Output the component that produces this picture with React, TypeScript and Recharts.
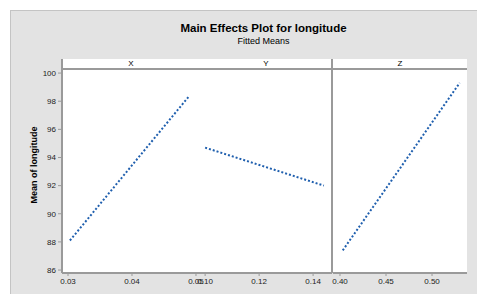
import React from 'react';
import { LineChart, Line, XAxis, YAxis } from 'recharts';

const panelNames = ['X', 'Y', 'Z'];
const yTicks = [86, 88, 90, 92, 94, 96, 98, 100];
const xTicks1 = [0.03, 0.04, 0.05];
const xTicks2 = [0.1, 0.12, 0.14];
const xTicks3 = [0.4, 0.45, 0.5];

const panel1 = [
    { x: 0.0303, y: 88.1 },
    { x: 0.049, y: 98.4 },
];
const panel2 = [
    { x: 0.1, y: 94.7 },
    { x: 0.144, y: 92.0 },
];
const panel3 = [
    { x: 0.403, y: 87.4 },
    { x: 0.53, y: 99.3 },
];

const FONT = '"Liberation Sans", Arial, sans-serif';
const AXIS = '#9a9a9a';
const BLUE = '#1f5fae';
const Y_DOMAIN: [number, number] = [85.79, 100.36];

const tickStyle = { fontSize: 8, fill: '#222', fontFamily: FONT };

interface PanelProps {
    data: { x: number; y: number }[];
    domain: [number, number];
    ticks: number[];
    left: number;
    width: number;
    margin: { top: number; right: number; bottom: number; left: number };
    showY?: boolean;
}

function Panel({ data, domain, ticks, left, width, margin, showY }: PanelProps) {
    return (
        <div style={{ position: 'absolute', left, top: 68 }}>
            <LineChart width={width} height={225} data={data} margin={margin}>
                <XAxis
                    type="number"
                    dataKey="x"
                    domain={domain}
                    ticks={ticks}
                    allowDataOverflow
                    height={20}
                    tickSize={3}
                    axisLine={{ stroke: AXIS, strokeWidth: 2 }}
                    tickLine={{ stroke: AXIS }}
                    tick={tickStyle}
                    tickFormatter={(v: number) => v.toFixed(2)}
                    interval={0}
                />
                <YAxis
                    type="number"
                    domain={Y_DOMAIN}
                    ticks={yTicks}
                    allowDataOverflow
                    hide={!showY}
                    width={62}
                    tickSize={4}
                    axisLine={{ stroke: AXIS, strokeWidth: 2 }}
                    tickLine={{ stroke: AXIS }}
                    tick={tickStyle}
                    interval={0}
                />
                <Line
                    type="linear"
                    dataKey="y"
                    stroke={BLUE}
                    strokeWidth={2}
                    strokeDasharray="2 2"
                    dot={false}
                    isAnimationActive={false}
                />
            </LineChart>
        </div>
    );
}

export default function App() {
    return (
        <div style={{ position: 'absolute', left: 0, top: 0, width: 477, height: 294, background: '#fff', overflow: 'hidden', fontFamily: FONT }}>
            <div style={{ position: 'absolute', left: 10, top: 10, width: 467, height: 284, background: '#e3e3e3', borderTop: '1px solid #c4c4c4', borderLeft: '1px solid #c4c4c4' }} />
            <div style={{ position: 'absolute', left: 0, width: 527, top: 22, textAlign: 'center', fontSize: 11.5, fontWeight: 'bold', color: '#000' }}>
                Main Effects Plot for longitude
            </div>
            <div style={{ position: 'absolute', left: 0, width: 527, top: 36, textAlign: 'center', fontSize: 9, color: '#000' }}>
                Fitted Means
            </div>
            {/* plot background and header strip */}
            <div style={{ position: 'absolute', left: 62, top: 59, width: 405, height: 214, background: '#fff' }} />
            <div style={{ position: 'absolute', left: 62, top: 68, width: 405, height: 0, borderTop: `2px solid ${AXIS}` }} />
            {panelNames.map((n, i) => (
                <div key={n} style={{ position: 'absolute', left: [62, 200, 333][i], width: [138, 132, 134][i], top: 59, textAlign: 'center', fontSize: 8, lineHeight: '9px' }}>
                    {n}
                </div>
            ))}
            <div style={{ position: 'absolute', left: 331, top: 59, width: 2, height: 214, background: AXIS }} />
            <div style={{ position: 'absolute', left: 61, top: 59, width: 2, height: 214, background: AXIS }} />
            <div style={{ position: 'absolute', left: 16, top: 165, transform: 'translate(-50%, -50%) rotate(-90deg)', transformOrigin: 'center', marginLeft: 18, fontSize: 9, fontWeight: 'bold', whiteSpace: 'nowrap' }}>
                Mean of longitude
            </div>
            <Panel data={panel1} domain={[0.02906, 0.05063]} ticks={xTicks1} left={0} width={230} margin={{ top: 0, right: 30, bottom: 0, left: 0 }} showY />
            <Panel data={panel2} domain={[0.0981, 0.147]} ticks={xTicks2} left={170} width={200} margin={{ top: 0, right: 38, bottom: 0, left: 30 }} />
            <Panel data={panel3} domain={[0.3924, 0.538]} ticks={xTicks3} left={303} width={164} margin={{ top: 0, right: 0, bottom: 0, left: 30 }} />
        </div>
    );
}
